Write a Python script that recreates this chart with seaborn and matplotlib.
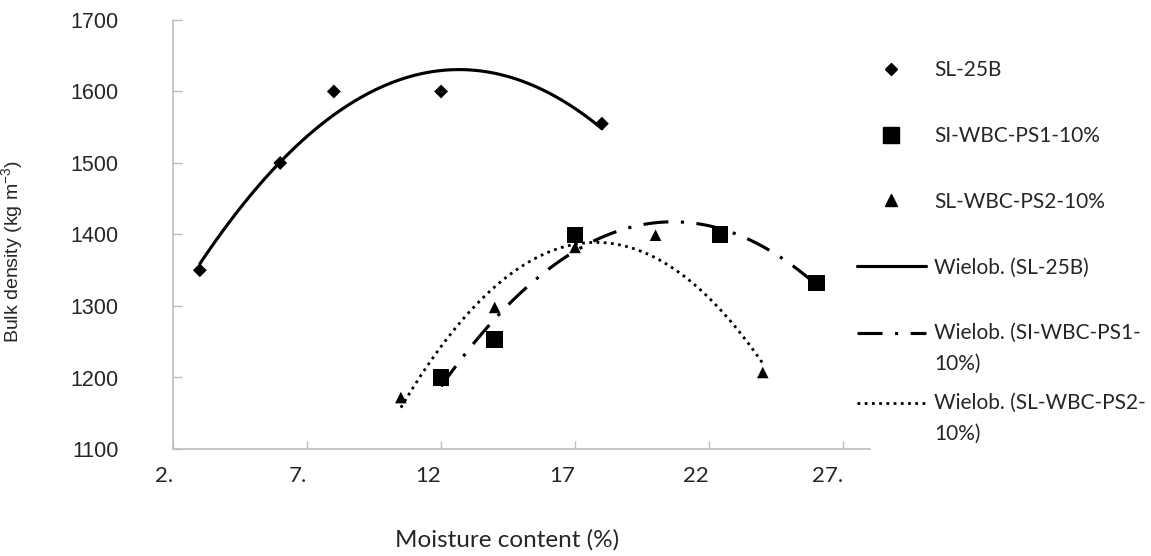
import matplotlib
matplotlib.use("Agg")
import numpy as np
import matplotlib.pyplot as plt
import matplotlib.transforms as mtransforms
from matplotlib.lines import Line2D
from matplotlib.legend_handler import HandlerLine2D
import seaborn as sns

# --- data ---
sl25b_x = [3.5, 6.5, 8.5, 12.5, 18.5]
sl25b_y = [1350, 1500, 1600, 1600, 1555]

ps1_x = [12.5, 14.5, 17.5, 22.9, 26.5]
ps1_y = [1200, 1253, 1399, 1400, 1332]

ps2_x = [11.0, 14.5, 17.5, 20.5, 24.5]
ps2_y = [1172, 1298, 1382, 1399, 1207]

x_ticks = [2.5, 7.5, 12.5, 17.5, 22.5, 27.5]
x_tick_labels = ["2.", "7.", "12", "17", "22", "27."]
y_ticks = [1100, 1200, 1300, 1400, 1500, 1600, 1700]
y_tick_labels = ["1100", "1200", "1300", "1400", "1500", "1600", "1700"]

series_labels = ["SL-25B", "SI-WBC-PS1-10%", "SL-WBC-PS2-10%"]
trend_labels = ["Wielob. (SL-25B)", "Wielob. (SI-WBC-PS1-\n10%)", "Wielob. (SL-WBC-PS2-\n10%)"]

sns.set_theme(style="white")
plt.rcParams["font.family"] = ["Liberation Sans", "DejaVu Sans"]
plt.rcParams["mathtext.fontset"] = "custom"
plt.rcParams["mathtext.rm"] = "Liberation Sans"
plt.rcParams["mathtext.it"] = "Liberation Sans:italic"

GREY = "#bfbfbf"
TEXT = "#262626"
calibri_like = ["Lato", "DejaVu Sans"]


class FirstLineHandler(HandlerLine2D):
    # put the legend line next to the first line of a two-line label (Excel style)
    def __init__(self, shift, **kw):
        super().__init__(**kw)
        self.shift = shift

    def create_artists(self, legend, orig_handle, xdescent, ydescent, width,
                       height, fontsize, trans):
        artists = super().create_artists(legend, orig_handle, xdescent, ydescent,
                                         width, height, fontsize, trans)
        for a in artists:
            a.set_ydata(np.asarray(a.get_ydata()) + self.shift * fontsize)
        return artists


fig = plt.figure(figsize=(11.51, 5.56), dpi=100)
ax = fig.add_axes([173 / 1151, 1 - 449 / 556, 697 / 1151, 429 / 556])

solid = "-"
dash_dot = (0, (8, 4, 1, 4))
dotted = (0, (1, 1.6))

# trendlines (2nd order polynomial, like Excel "Wielob.")
sns.regplot(x=sl25b_x, y=sl25b_y, order=2, ci=None, scatter=False, ax=ax,
            color="black", line_kws={"linestyle": solid, "linewidth": 2.25})
sns.regplot(x=ps1_x, y=ps1_y, order=2, ci=None, scatter=False, ax=ax,
            color="black", line_kws={"linestyle": dash_dot, "linewidth": 2.25})
sns.regplot(x=ps2_x, y=ps2_y, order=2, ci=None, scatter=False, ax=ax,
            color="black", line_kws={"linestyle": dotted, "linewidth": 2.0})

# markers
sns.scatterplot(x=sl25b_x, y=sl25b_y, marker="D", s=50, color="black", edgecolor="none", ax=ax)
sns.scatterplot(x=ps1_x, y=ps1_y, marker="s", s=140, color="black", edgecolor="none", ax=ax)
sns.scatterplot(x=ps2_x, y=ps2_y, marker="^", s=70, color="black", edgecolor="none", ax=ax)

ax.set_xlim(2.5, 28.5)
ax.set_ylim(1100, 1700)

ax.set_xticks(x_ticks)
ax.set_xticklabels(x_tick_labels, fontsize=16, family=calibri_like, color=TEXT, ha="right")
offset = mtransforms.ScaledTranslation(-5 / 100, 0, fig.dpi_scale_trans)
for lbl in ax.get_xticklabels():
    lbl.set_transform(lbl.get_transform() + offset)
ax.set_yticks(y_ticks)
ax.set_yticklabels(y_tick_labels, fontsize=15.5, color=TEXT)

ax.tick_params(axis="x", direction="in", length=6, width=1, color=GREY, pad=12, bottom=True)
ax.tick_params(axis="y", direction="in", length=6.5, width=1, color=GREY, pad=39, left=True)

for side in ["top", "right"]:
    ax.spines[side].set_visible(False)
for side in ["left", "bottom"]:
    ax.spines[side].set_color(GREY)
    ax.spines[side].set_linewidth(1.2)
ax.grid(False)

ax.set_ylabel("Bulk density (kg m$^{-3}$)", fontsize=14, color=TEXT)
ax.yaxis.set_label_coords(-0.212, 0.46)
ax.set_xlabel("Moisture content (%)", fontsize=17.5, family=calibri_like, color=TEXT)
ax.xaxis.set_label_coords(0.48, -0.187)

handles = [
    Line2D([], [], marker="D", markersize=6.5, color="black", linestyle="none"),
    Line2D([], [], marker="s", markersize=11, color="black", linestyle="none"),
    Line2D([], [], marker="^", markersize=8, color="black", linestyle="none"),
    Line2D([], [], color="black", linestyle=solid, linewidth=2.25),
    Line2D([], [], color="black", linestyle=dash_dot, linewidth=2.25),
    Line2D([], [], color="black", linestyle=dotted, linewidth=2.0),
]
labels = series_labels + trend_labels
first_line = {handles[4]: FirstLineHandler(0.77), handles[5]: FirstLineHandler(0.77)}
leg_kw = dict(loc="upper left", frameon=False, handlelength=3.3, handletextpad=0.4,
              labelspacing=2.2, borderpad=0, borderaxespad=0,
              prop={"family": calibri_like, "size": 15}, handler_map=first_line)

# Excel packs the last entry tighter, so it gets its own legend block
legends = [
    fig.legend(handles[:5], labels[:5], bbox_to_anchor=(857 / 1151, 1 - 60 / 556), **leg_kw),
    fig.legend(handles[5:], labels[5:], bbox_to_anchor=(857 / 1151, 1 - 393 / 556), **leg_kw),
]
for leg in legends:
    for t in leg.get_texts():
        t.set_color(TEXT)
        t.set_linespacing(1.65)

fig.savefig("out.png", dpi=100)
